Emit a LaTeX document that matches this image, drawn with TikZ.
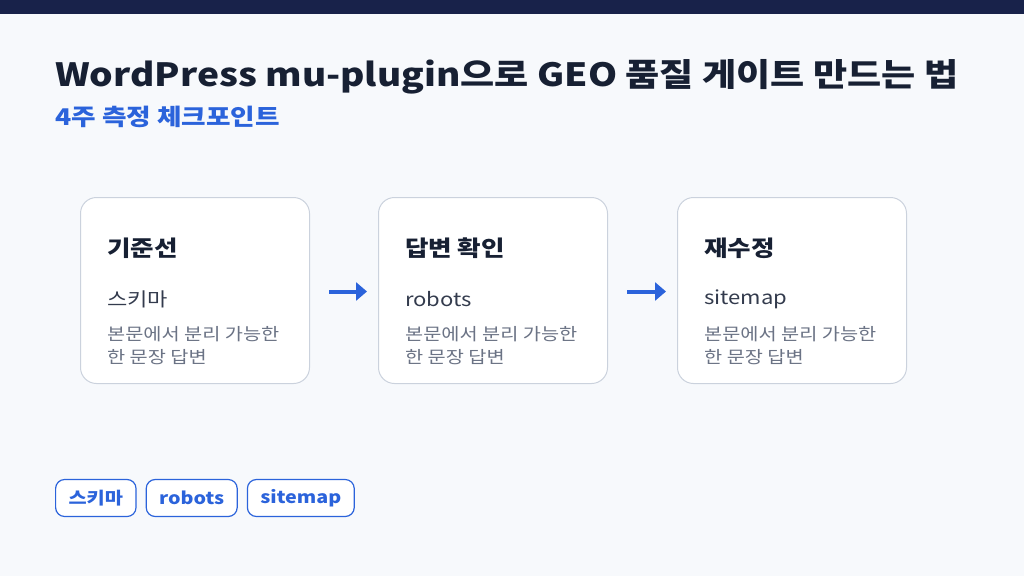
\documentclass[tikz,border=0pt]{standalone}
\usepackage{fontspec}
\setmainfont{Noto Sans CJK KR}[FakeStretch=1.16]
\usetikzlibrary{arrows.meta}
\definecolor{navy}{HTML}{18224A}
\definecolor{bg}{HTML}{F7F9FC}
\definecolor{ttl}{HTML}{172033}
\definecolor{blu}{HTML}{2B63DB}
\definecolor{bord}{HTML}{CBD2DD}
\definecolor{gr}{HTML}{6B7385}
\definecolor{dk}{HTML}{333B4D}
\tikzset{
 card/.style={draw=bord,line width=1pt,fill=white,rounded corners=16pt,minimum width=229pt,minimum height=186pt,anchor=north west},
 head/.style={anchor=west,font=\fontsize{22}{26}\selectfont\bfseries,text=ttl,inner sep=0},
 sub/.style={anchor=west,font=\fontsize{19}{23}\selectfont,text=dk,inner sep=0},
 desc/.style={anchor=north west,font=\fontsize{17}{23}\selectfont,text=gr,inner sep=0,align=left},
 tag/.style={draw=blu,line width=1.2pt,fill=white,rounded corners=9pt,minimum height=37pt,text=blu,font=\fontsize{17}{20}\selectfont\bfseries,anchor=west,inner xsep=13pt},
 flow/.style={draw=blu,line width=4pt,-{Triangle[length=11pt,width=18pt]}}
}
\begin{document}
\begin{tikzpicture}[x=1pt,y=-1pt]
\fill[bg] (0,0) rectangle (1024,576);
\useasboundingbox (0,0) rectangle (1024,576);
\fill[navy] (0,0) rectangle (1024,14);
\node[anchor=base west,inner sep=0,text=ttl,font=\fontsize{32}{36}\selectfont\bfseries] (title) at (55,86) {WordPress mu-plugin으로 GEO 품질 게이트 만드는 법};
\node[anchor=base west,inner sep=0,text=blu,font=\fontsize{23}{26}\selectfont\bfseries] (subt) at (55,125) {4주 측정 체크포인트};
\foreach \i/\x/\h/\s in {1/80/기준선/스키마,2/378/답변 확인/robots,3/677/재수정/sitemap}{
 \node[card] (c\i) at (\x,197) {};
 \node[head] (h\i) at (\x+27,248) {\h};
 \node[sub] (s\i) at (\x+27,299) {\s};
 \node[desc] (d\i) at (\x+27,326) {본문에서 분리 가능한\\한 문장 답변};
}
\draw[flow] ([xshift=19pt,yshift=-1pt]c1.east) -- ([xshift=-11pt,yshift=-1pt]c2.west);
\draw[flow] ([xshift=19pt,yshift=-1pt]c2.east) -- ([xshift=-11pt,yshift=-1pt]c3.west);
\node[tag] (t1) at (55,498) {스키마};
\node[tag] (t2) at ([xshift=9pt]t1.east) {robots};
\node[tag] (t3) at ([xshift=9pt]t2.east) {sitemap};
\end{tikzpicture}
\end{document}
